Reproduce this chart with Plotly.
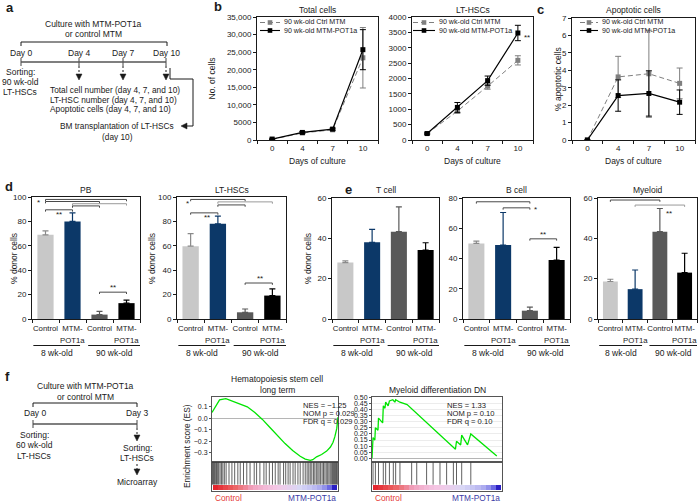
import plotly.graph_objects as go

W, H = 700, 503
FONT = "Liberation Sans, Arial, Helvetica, sans-serif"
INK = "#1a1a1a"
GRAY_LINE = "#7f7f7f"

# ---------------- data ----------------
days = ["0", "4", "7", "10"]
series_names = ["90 wk-old Ctrl MTM", "90 wk-old MTM-POT1a"]

total_ctrl = [200, 2000, 2900, 23400]
total_ctrl_err = [60, 250, 250, 8600]
total_pot = [250, 2150, 3100, 25700]
total_pot_err = [60, 250, 300, 5700]
total_ticks = [0, 5000, 10000, 15000, 20000, 25000, 30000, 35000]
total_ticktext = ["0", "5000", "10,000", "15,000", "20,000", "25,000", "30,000", "35,000"]

lt_ctrl = [210, 940, 1750, 2590]
lt_ctrl_err = [20, 70, 100, 150]
lt_pot = [210, 1060, 1930, 3480]
lt_pot_err = [20, 160, 150, 250]
lt_ticks = [0, 500, 1000, 1500, 2000, 2500, 3000, 3500, 4000]

apo_ctrl = [0, 3.62, 3.8, 3.25]
apo_ctrl_err = [0, 1.18, 2.5, 0.88]
apo_pot = [0, 2.55, 2.67, 2.17]
apo_pot_err = [0, 0.9, 1.3, 0.7]
apo_ticks = [0, 1, 2, 3, 4, 5, 6, 7]

bar_labels_top = ["Control", "MTM-", "Control", "MTM-"]
bar_labels_bottom = ["", "POT1a", "", "POT1a"]
age_groups = ["8 wk-old", "90 wk-old"]

pb_vals = [69, 80, 3.6, 13]
pb_err = [3.3, 7, 2.7, 2.4]
lthsc_vals = [59.7, 78, 5.5, 19.2]
lthsc_err = [10.2, 6.4, 2.7, 5.5]
tcell_vals = [28, 38, 43.3, 34.2]
tcell_err = [0.8, 6.4, 12.3, 3.6]
bcell_vals = [50, 48.9, 5.5, 39]
bcell_err = [1.5, 21.5, 2.4, 8.4]
myeloid_vals = [18.6, 14.8, 43.3, 23]
myeloid_err = [1.1, 9.5, 11.5, 9.6]

# GSEA: running enrichment score vs. rank position (% of ranked list)
gsea1_rank = [0, 3, 6, 11, 16, 22, 28, 34, 40, 46, 52, 58, 64, 70, 74, 78, 80, 83, 87, 91, 94, 96, 97.5, 99, 100]
gsea1_es = [0.05, 0.11, 0.16, 0.17, 0.15, 0.13, 0.10, 0.05, -0.01, -0.08, -0.15, -0.22, -0.28, -0.33,
            -0.355, -0.365, -0.36, -0.335, -0.315, -0.285, -0.25, -0.21, -0.16, -0.09, 0.01]
gsea1_hits = [0.4, 1.2, 2.0, 2.9, 3.6, 4.5, 5.3, 6.4, 7.5, 8.6, 9.8, 11.2,
              13.5, 15.8, 18.0, 20.5, 22.4, 25.0, 27.6, 30.2, 33.5, 35.4, 38.0, 41.2, 43.0, 45.5,
              48.0, 50.2, 52.5, 54.0, 56.8, 58.5, 60.4, 62.0, 64.3, 66.0, 68.2, 70.0, 72.3, 74.0,
              75.5, 76.8, 78.0, 79.2, 80.5, 81.6, 82.8, 84.0, 85.0, 86.2, 87.4, 88.5, 89.6, 90.7,
              91.8, 92.8, 93.8, 94.7, 95.6, 96.4, 97.2, 98.0, 98.8, 99.5]
gsea1_ticks = [0.1, 0.0, -0.1, -0.2, -0.3]
gsea1_stats = ["NES = \u22121.25", "NOM p = 0.029", "FDR q = 0.029"]

gsea2_rank = [0, 0.8, 2.2, 2.6, 4.6, 5.0, 8.2, 8.7, 10.0, 10.5, 12.4, 13.4, 16.0, 17.6, 18.2, 21.5,
              27.0, 40.0, 50.0, 60.0, 64.2, 65.0, 68.2, 69.0, 73.5, 76.0, 96.0]
gsea2_es = [0.0, 0.17, 0.15, 0.25, 0.23, 0.33, 0.29, 0.43, 0.41, 0.46, 0.43, 0.47, 0.48, 0.46, 0.48, 0.46,
            0.44, 0.31, 0.21, 0.11, 0.075, 0.14, 0.11, 0.19, 0.11, 0.20, 0.02]
gsea2_hits = [0.8, 2.6, 5.0, 8.7, 10.5, 13.4, 16.4, 18.2, 21.5, 30.5, 34.4, 42.0, 47.0, 52.3,
              57.4, 62.6, 65.0, 69.0, 76.0]
gsea2_ticks = [0.0, 0.05, 0.10, 0.15, 0.20, 0.25, 0.30, 0.35, 0.40, 0.45, 0.50]
gsea2_stats = ["NES = 1.33", "NOM p = 0.10", "FDR q = 0.10"]

rank_metric = [1.0, 0.92, 0.84, 0.76, 0.68, 0.6, 0.52, 0.42, 0.34, 0.27, 0.21, 0.16, 0.12,
               0.08, 0.04, 0.0, -0.05, -0.1, -0.16, -0.22, -0.3, -0.4, -0.52, -0.68, -1.0]

# ---------------- helpers ----------------
fig = go.Figure()
shapes, annotations = [], []
layout = {}


def fx(x):
    return x / W


def fy(y):
    return 1 - y / H


def xa(n):
    return "xaxis" if n == 1 else f"xaxis{n}"


def ya(n):
    return "yaxis" if n == 1 else f"yaxis{n}"


def xr(n):
    return "x" if n == 1 else f"x{n}"


def yr(n):
    return "y" if n == 1 else f"y{n}"


def ptext(x, y, s, size=8, color=INK, xanchor="center", yanchor="middle", bold=False, angle=0):
    annotations.append(dict(text=f"<b>{s}</b>" if bold else s, x=fx(x), y=fy(y), xref="paper", yref="paper",
                            showarrow=False, xanchor=xanchor, yanchor=yanchor, textangle=angle,
                            font=dict(size=size, color=color, family=FONT)))


def dtext(n, x, y, s, size=8, color=INK):
    annotations.append(dict(text=s, x=x, y=y, xref=xr(n), yref=yr(n), showarrow=False,
                            xanchor="center", yanchor="middle",
                            font=dict(size=size, color=color, family=FONT)))


def pline(x0, y0, x1, y1, color=INK, width=1, dash="solid"):
    shapes.append(dict(type="line", xref="paper", yref="paper", x0=fx(x0), y0=fy(y0), x1=fx(x1), y1=fy(y1),
                       line=dict(color=color, width=width, dash=dash)))


def ppath(points, color=INK):
    d = "M " + " L ".join(f"{fx(x):.5f},{fy(y):.5f}" for x, y in points) + " Z"
    shapes.append(dict(type="path", xref="paper", yref="paper", path=d, fillcolor=color,
                       line=dict(color=color, width=0.5)))


def prect(x0, y0, x1, y1, color):
    shapes.append(dict(type="rect", xref="paper", yref="paper", x0=fx(x0), y0=fy(y1), x1=fx(x1), y1=fy(y0),
                       fillcolor=color, line=dict(width=0)))


def arrow_down(x, y):
    ppath([(x - 3, y - 6), (x + 3, y - 6), (x, y)])


def arrow_left(x, y):
    ppath([(x + 6, y - 3), (x + 6, y + 3), (x, y)])


TICKFONT = dict(size=8, family=FONT, color=INK)
AX = dict(automargin=False, showgrid=False, zeroline=False)

# ---------------- panel a (scheme) ----------------
ptext(4, 8, "a", 13, bold=True, xanchor="left")
ptext(93, 24, "Culture with MTM-POT1a", 8.5)
ptext(93, 34, "or control MTM", 8.5)
pline(21, 42, 167, 42)
pline(21, 42, 21, 46)
pline(167, 42, 167, 46)
for xx, lab in zip([21, 79, 123, 166], ["Day 0", "Day 4", "Day 7", "Day 10"]):
    ptext(xx, 53, lab, 8.5)
    pline(xx, 58, xx, 66, color="#444", width=1)
pline(21, 62, 166, 62, color="#555", width=1.5)
for xx in [79, 123, 166]:
    pline(xx, 66, xx, 75, dash="2px,2px")
    arrow_down(xx, 80)
for i, s in enumerate(["Sorting:", "90 wk-old", "LT-HSCs"]):
    ptext(20, 72 + i * 10, s, 8.5)
for i, s in enumerate(["Total cell number (day 4, 7, and 10)", "LT-HSC number (day 4, 7, and 10)",
                       "Apoptotic cells (day 4, 7, and 10)"]):
    ptext(48, 90 + i * 9.6, s, 8.3, xanchor="left")
pline(170, 68, 170, 79)
pline(170, 79, 193, 79)
pline(193, 79, 193, 126)
pline(193, 126, 186, 126)
arrow_left(181, 126)
ptext(117, 126, "BM transplantation of LT-HSCs", 8.3)
ptext(117, 137, "(day 10)", 8.3)

# ---------------- panels b, c (line charts) ----------------
ptext(212, 7, "b", 13, bold=True, xanchor="left")
ptext(535, 9, "c", 13, bold=True, xanchor="left")


def line_panel(n, xpx, ypx, ymax, yvals, ytext, ctrl, ctrl_err, pot, pot_err, title, ytitle, ytitle_x, leg):
    layout[xa(n)] = dict(domain=[fx(xpx[0]), fx(xpx[1])], anchor=yr(n), range=[-0.5, 3.5], tickmode="array",
                         tickvals=list(range(len(days))), ticktext=days, ticks="", tickangle=0, showline=True,
                         mirror=True, linecolor=INK, linewidth=1, tickfont=TICKFONT,
                         minor=dict(ticks="outside", ticklen=3, tickcolor=INK, tick0=-0.5, dtick=1, showgrid=False),
                         **AX)
    layout[ya(n)] = dict(domain=[fy(ypx[1]), fy(ypx[0])], anchor=xr(n), range=[0, ymax], tickmode="array",
                         tickvals=yvals, ticktext=ytext, ticks="outside", ticklen=3, tickcolor=INK, showline=True,
                         mirror=True, linecolor=INK, linewidth=1, tickfont=TICKFONT, **AX)
    x = list(range(len(days)))
    fig.add_trace(go.Scatter(x=x, y=ctrl, mode="lines+markers", name=series_names[0],
                             line=dict(color=GRAY_LINE, width=1, dash="5px,3px"),
                             marker=dict(symbol="square", size=5, color=GRAY_LINE),
                             error_y=dict(type="data", array=ctrl_err, color=GRAY_LINE, thickness=1, width=3),
                             xaxis=xr(n), yaxis=yr(n)))
    fig.add_trace(go.Scatter(x=x, y=pot, mode="lines+markers", name=series_names[1],
                             line=dict(color="black", width=1.2),
                             marker=dict(symbol="square", size=5, color="black"),
                             error_y=dict(type="data", array=pot_err, color="black", thickness=1, width=3),
                             xaxis=xr(n), yaxis=yr(n)))
    cx = (xpx[0] + xpx[1]) / 2
    ptext(cx, 10, title, 8.5)
    ptext(cx, 161, "Days of culture", 8.5)
    if ytitle:
        ptext(ytitle_x, (ypx[0] + ypx[1]) / 2, ytitle, 8.5, angle=-90)
    # in-plot legend
    l0, l1, tx = leg
    for k, (col, dash, yy) in enumerate([(GRAY_LINE, "5px,3px", 22.5), ("black", "solid", 30.5)]):
        pline(l0, yy, l1, yy, color=col, width=1.1, dash=dash)
        m = (l0 + l1) / 2
        prect(m - 2.3, yy - 2.3, m + 2.3, yy + 2.3, col)
        ptext(tx, yy, series_names[k], 7.1, xanchor="left")


line_panel(1, (257, 378), (17, 140), 35000, total_ticks, total_ticktext, total_ctrl, total_ctrl_err,
           total_pot, total_pot_err, "Total cells", "No. of cells", 212, (260, 280, 282))
line_panel(2, (412, 533), (17, 140), 4000, lt_ticks, [str(v) for v in lt_ticks], lt_ctrl, lt_ctrl_err,
           lt_pot, lt_pot_err, "LT-HSCs", None, None, (413, 435, 437))
line_panel(3, (572, 695), (18, 140), 7, apo_ticks, [str(v) for v in apo_ticks], apo_ctrl, apo_ctrl_err,
           apo_pot, apo_pot_err, "Apoptotic cells", "% apoptotic cells", 558, (580, 598, 600))
ptext(527, 38, "**", 8)

# ---------------- panels d, e (bar charts) ----------------
ptext(3, 186, "d", 13, bold=True, xanchor="left")
ptext(343, 190, "e", 13, bold=True, xanchor="left")

bar_colors = ["#c8c8c8", "#0c3868", "#595959", "#000000"]
err_colors = ["#8a8a8a", "#0c3868", "#595959", "#000000"]
BR_D = "#4a4a4a"
BR_L = "#9a9a9a"
BARFONT = dict(size=7.8, family=FONT, color=INK)


def bar_panel(n, xpx, ypx, ymax, vals, errs, title, ytitle, ytitle_x, brackets, stars):
    layout[xa(n)] = dict(domain=[fx(xpx[0]), fx(xpx[1])], anchor=yr(n), range=[-0.5, 3.5], tickmode="array",
                         tickvals=list(range(len(vals))), ticktext=bar_labels_top, ticks="", tickangle=0,
                         ticklabelstandoff=2, showline=True, mirror=True, linecolor=INK, linewidth=1,
                         tickfont=BARFONT,
                         minor=dict(ticks="outside", ticklen=3, tickcolor=INK, tick0=-0.5, dtick=1, showgrid=False),
                         **AX)
    layout[ya(n)] = dict(domain=[fy(ypx[1]), fy(ypx[0])], anchor=xr(n), range=[0, ymax], tickmode="linear",
                         tick0=0, dtick=20, ticks="outside", ticklen=3, tickcolor=INK, showline=True, mirror=True,
                         linecolor=INK, linewidth=1, tickfont=TICKFONT, **AX)
    for i, (v, e) in enumerate(zip(vals, errs)):
        fig.add_trace(go.Bar(x=[i], y=[v], width=0.6, marker=dict(color=bar_colors[i], line=dict(width=0)),
                             error_y=dict(type="data", array=[e], arrayminus=[0], symmetric=False,
                                          color=err_colors[i], thickness=1.2, width=3),
                             xaxis=xr(n), yaxis=yr(n)))
    for i, s in enumerate(bar_labels_bottom):
        if s:
            annotations.append(dict(text=s, x=i, y=fy(340), xref=xr(n), yref="paper", showarrow=False,
                                    xanchor="center", yanchor="middle", font=BARFONT))
    cx = (xpx[0] + xpx[1]) / 2
    ptext(cx, 190, title, 8.5)
    if ytitle:
        ptext(ytitle_x, 259, ytitle, 8.5, angle=-90)
    d = ymax * 0.015
    for x0, x1, yy, col in brackets:
        shapes.append(dict(type="path", xref=xr(n), yref=yr(n),
                           path=f"M {x0},{yy - d} L {x0},{yy} L {x1},{yy} L {x1},{yy - d}",
                           line=dict(color=col, width=1)))
    for sx, sy, s in stars:
        dtext(n, sx, sy, s, 8)
    # age-group underlines and labels
    for (g0, g1, gc), lab in zip([(-0.45, 1.28, 0.42), (1.58, 3.6, 2.57)], age_groups):
        shapes.append(dict(type="line", xref=xr(n), yref="paper", x0=g0, x1=g1, y0=fy(345.5), y1=fy(345.5),
                           line=dict(color=INK, width=1)))
        annotations.append(dict(text=lab, x=gc, y=fy(352.5), xref=xr(n), yref="paper", showarrow=False,
                                xanchor="center", yanchor="middle",
                                font=dict(size=8.5, family=FONT, color=INK)))


bar_panel(4, (32, 140), (197, 319), 100, pb_vals, pb_err, "PB", "% donor cells", 14,
          [(0, 3, 98, BR_D), (0, 2, 96.3, BR_D), (1, 3, 94.5, BR_L), (1, 2, 92.7, BR_D), (0, 1, 89.5, BR_D),
           (2, 3, 22, BR_D)],
          [(-0.25, 95.3, "*"), (0.5, 85.5, "**"), (2.5, 25.5, "**")])
bar_panel(5, (177, 286), (197, 319), 100, lthsc_vals, lthsc_err, "LT-HSCs", "% donor cells", 152,
          [(0, 2, 98, BR_D), (1, 3, 96, BR_L), (1, 2, 93.5, BR_D), (0, 1, 87, BR_D), (2, 3, 29.5, BR_D)],
          [(-0.1, 94.5, "*"), (0.6, 83.5, "**"), (2.55, 33, "**")])
bar_panel(6, (332, 439), (198, 319), 60, tcell_vals, tcell_err, "T cell", "% donor cells", 308, [], [])
bar_panel(7, (463, 570), (198, 319), 80, bcell_vals, bcell_err, "B cell", None, None,
          [(0, 2, 77.5, BR_D), (1, 2, 73.5, BR_D), (2, 3, 53, BR_D)],
          [(2.2, 72.5, "*"), (2.5, 56, "**")])
bar_panel(8, (598, 697), (198, 319), 60, myeloid_vals, myeloid_err, "Myeloid", None, None,
          [(0, 2, 59, BR_D), (1, 3, 56.5, BR_L)],
          [(2.35, 52.5, "**")])

# ---------------- panel f (scheme) ----------------
ptext(3, 376, "f", 13, bold=True, xanchor="left")
ptext(85, 386, "Culture with MTM-POT1a", 8.5)
ptext(85, 397, "or control MTM", 8.5)
pline(33, 403, 137, 403)
pline(33, 403, 33, 407)
pline(137, 403, 137, 407)
ptext(35, 413, "Day 0", 8.5)
ptext(137, 413, "Day 3", 8.5)
pline(33, 424, 137, 424, color="#555", width=1.5)
pline(33, 420, 33, 428, color="#444")
pline(137, 420, 137, 428, color="#444")
for i, s in enumerate(["Sorting:", "60 wk-old", "LT-HSCs"]):
    ptext(34, 435 + i * 10.3, s, 8.5)
pline(137, 428, 137, 436, dash="2px,2px")
arrow_down(137, 441)
ptext(137, 447.5, "Sorting:", 8.5)
ptext(137, 458, "LT-HSCs", 8.5)
pline(137, 464, 137, 470, dash="2px,2px")
arrow_down(137, 475)
ptext(137, 482, "Microarray", 8.5)

# ---------------- panel f (GSEA plots) ----------------
cscale = [[0.0, "#2a1fc4"], [0.1, "#4f4ade"], [0.28, "#a7a6ee"], [0.45, "#d9d7f5"], [0.55, "#f4c8e6"],
          [0.7, "#f0a0bc"], [0.85, "#ec6262"], [1.0, "#e3262e"]]


def gsea_panel(n, xpx, yr_es, ticks, tfmt, rank, es, hits, stats, stats_x, grid):
    ne, nh, nc = n, n + 1, n + 2
    layout[xa(ne)] = dict(domain=[fx(xpx[0]), fx(xpx[1])], anchor=yr(ne), range=[0, 100], showticklabels=False,
                          ticks="", showline=True, mirror=True, linecolor="#555", automargin=False,
                          showgrid=False, zeroline=False)
    layout[ya(ne)] = dict(domain=[fy(462), fy(397)], anchor=xr(ne), range=yr_es, tickmode="array", tickvals=ticks,
                          tickformat=tfmt, ticks="outside", ticklen=2, tickcolor="#555", showline=True, mirror=True,
                          linecolor="#555", showgrid=grid, gridcolor="#ececec", zeroline=True, automargin=False,
                          zerolinecolor="#b5b5b5", zerolinewidth=1, tickfont=dict(size=7, family=FONT, color=INK))
    layout[xa(nh)] = dict(domain=[fx(xpx[0]), fx(xpx[1])], anchor=yr(nh), range=[0, 100], showticklabels=False,
                          ticks="", showline=True, mirror=True, linecolor="#555", **AX)
    layout[ya(nh)] = dict(domain=[fy(491), fy(462)], anchor=xr(nh), range=[0, 1], showticklabels=False, ticks="",
                          showline=True, mirror=True, linecolor="#555", **AX)
    layout[xa(nc)] = dict(domain=[fx(xpx[0] + 1), fx(xpx[1] - 1)], anchor=yr(nc), range=[0, 100], visible=False,
                          **AX)
    layout[ya(nc)] = dict(domain=[fy(490), fy(485)], anchor=xr(nc), range=[-0.5, 0.5], visible=False, **AX)
    fig.add_trace(go.Scatter(x=rank, y=es, mode="lines", line=dict(color="#00e400", width=1.3),
                             xaxis=xr(ne), yaxis=yr(ne)))
    hx, hy = [], []
    for h in hits:
        hx += [h, h, None]
        hy += [0.22, 0.98, None]
    fig.add_trace(go.Scatter(x=hx, y=hy, mode="lines", line=dict(color="rgba(20,20,20,0.75)", width=0.9),
                             xaxis=xr(nh), yaxis=yr(nh)))
    step = 100 / len(rank_metric)
    fig.add_trace(go.Heatmap(z=[rank_metric], x0=step / 2, dx=step, y=[0], colorscale=cscale, zmin=-1, zmax=1,
                             showscale=False, xaxis=xr(nc), yaxis=yr(nc), hoverinfo="skip"))
    for i, s in enumerate(stats):
        ptext(stats_x, 405 + i * 8.2, s, 7.6, xanchor="left")
    ptext(xpx[0] + 1, 497.5, "Control", 8.3, color="#e53935", xanchor="left")
    ptext(xpx[1], 497.5, "MTM-POT1a", 8.3, color="#3c3ca6", xanchor="right")


gsea_panel(9, (212, 338), [-0.38, 0.185], gsea1_ticks, ".1f", gsea1_rank, gsea1_es, gsea1_hits, gsea1_stats,
           301, False)
gsea_panel(12, (372, 502), [-0.03, 0.5025], gsea2_ticks, ".2f", gsea2_rank, gsea2_es, gsea2_hits, gsea2_stats,
           445, True)
ptext(277, 379, "Hematopoiesis stem cell", 8.5)
ptext(277, 390, "long term", 8.5)
ptext(437, 390, "Myeloid differentiation DN", 8.5)
ptext(187, 446, "Enrichment score (ES)", 8.3, angle=-90)

layout.update(template="none", width=W, height=H, margin=dict(l=0, r=0, t=0, b=0, autoexpand=False),
              paper_bgcolor="white", plot_bgcolor="white", showlegend=False, barmode="overlay",
              hovermode=False, font=dict(family=FONT, size=8, color=INK), shapes=shapes, annotations=annotations)
fig.update_layout(**layout)
fig.write_html("out.html", config={"displayModeBar": False, "staticPlot": True},
               post_script="document.body.style.margin='0px';document.body.style.padding='0px';"
                           "document.body.style.overflow='hidden';")
